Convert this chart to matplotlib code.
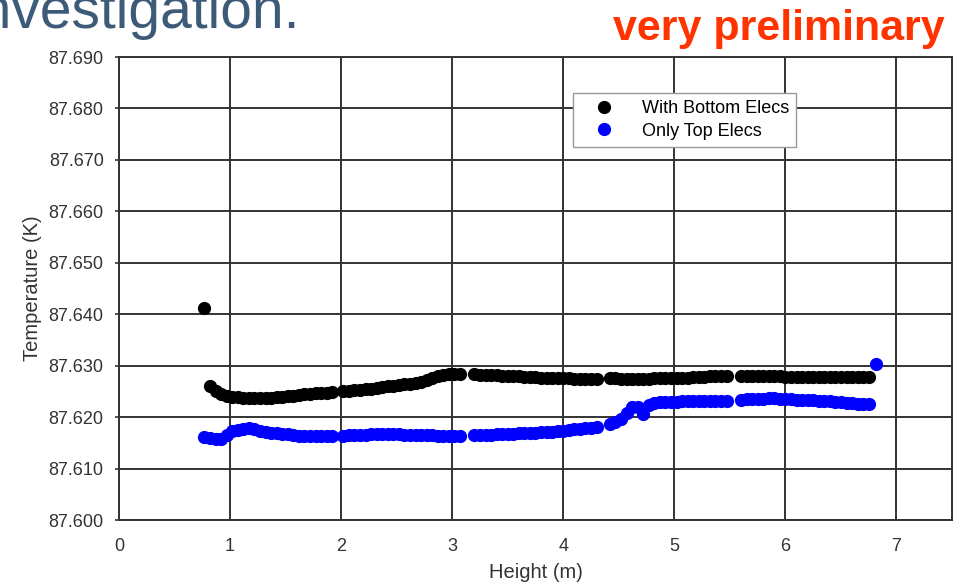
import matplotlib
matplotlib.use("Agg")
import matplotlib.pyplot as plt

plt.rcParams['font.family'] = ['Liberation Sans', 'DejaVu Sans']

# heights (m) of the sensors, same for both runs
heights = [0.77, 0.82, 0.87, 0.92, 0.97, 1.02, 1.07, 1.12, 1.17, 1.22, 1.27, 1.32,
           1.37, 1.42, 1.47, 1.52, 1.57, 1.62, 1.67, 1.72, 1.77, 1.82, 1.87, 1.92,
           2.02, 2.07, 2.12, 2.17, 2.22, 2.27, 2.32, 2.37, 2.42, 2.47, 2.52, 2.57,
           2.62, 2.67, 2.72, 2.77, 2.82, 2.87, 2.92, 2.97, 3.02, 3.07,
           3.20, 3.25, 3.30, 3.35, 3.40, 3.45, 3.50, 3.55, 3.60, 3.65, 3.70, 3.75,
           3.80, 3.85, 3.90, 3.95, 4.00, 4.05, 4.10, 4.15, 4.20, 4.25, 4.30,
           4.42, 4.47, 4.52, 4.57, 4.62, 4.67, 4.72, 4.77, 4.82, 4.87, 4.92, 4.97,
           5.02, 5.07, 5.12, 5.17, 5.22, 5.27, 5.32, 5.37, 5.42, 5.47,
           5.60, 5.65, 5.70, 5.75, 5.80, 5.85, 5.90, 5.95, 6.00, 6.05, 6.10, 6.15,
           6.20, 6.25, 6.30, 6.35, 6.40, 6.45, 6.50, 6.55, 6.60, 6.65, 6.70, 6.75]

temp_bottom = [87.6413, 87.6260, 87.6250, 87.6244, 87.6241, 87.6240, 87.6239, 87.6238,
               87.6237, 87.6237, 87.6237, 87.6238, 87.6238, 87.6239, 87.6240, 87.6241,
               87.6242, 87.6243, 87.6244, 87.6245, 87.6246, 87.6247, 87.6247, 87.6248,
               87.6250, 87.6251, 87.6252, 87.6253, 87.6254, 87.6255, 87.6257, 87.6258,
               87.6260, 87.6261, 87.6262, 87.6264, 87.6265, 87.6267, 87.6269, 87.6272,
               87.6276, 87.6279, 87.6281, 87.6283, 87.6284, 87.6284,
               87.6283, 87.6282, 87.6282, 87.6281, 87.6281, 87.6280, 87.6280, 87.6279,
               87.6279, 87.6278, 87.6278, 87.6278, 87.6277, 87.6277, 87.6277, 87.6276,
               87.6276, 87.6276, 87.6275, 87.6275, 87.6275, 87.6275, 87.6275,
               87.6276, 87.6276, 87.6275, 87.6275, 87.6275, 87.6275, 87.6275, 87.6275,
               87.6276, 87.6276, 87.6276, 87.6276, 87.6277, 87.6277, 87.6277, 87.6278,
               87.6278, 87.6278, 87.6279, 87.6279, 87.6280, 87.6280,
               87.6280, 87.6280, 87.6280, 87.6280, 87.6279, 87.6279, 87.6279, 87.6279,
               87.6278, 87.6278, 87.6278, 87.6278, 87.6278, 87.6278, 87.6278, 87.6278,
               87.6278, 87.6278, 87.6278, 87.6278, 87.6278, 87.6278, 87.6278, 87.6278]

temp_top = [87.6162, 87.6160, 87.6157, 87.6158, 87.6165, 87.6173, 87.6175, 87.6177,
            87.6178, 87.6176, 87.6173, 87.6171, 87.6170, 87.6169, 87.6168, 87.6167,
            87.6165, 87.6164, 87.6163, 87.6163, 87.6163, 87.6163, 87.6163, 87.6163,
            87.6164, 87.6165, 87.6165, 87.6166, 87.6166, 87.6167, 87.6167, 87.6167,
            87.6167, 87.6167, 87.6167, 87.6166, 87.6166, 87.6166, 87.6165, 87.6165,
            87.6165, 87.6164, 87.6164, 87.6164, 87.6164, 87.6164,
            87.6165, 87.6165, 87.6166, 87.6166, 87.6167, 87.6167, 87.6168, 87.6168,
            87.6169, 87.6169, 87.6170, 87.6170, 87.6171, 87.6172, 87.6172, 87.6173,
            87.6174, 87.6175, 87.6176, 87.6177, 87.6178, 87.6179, 87.6180,
            87.6187, 87.6191, 87.6196, 87.6208, 87.6219, 87.6219, 87.6207, 87.6223,
            87.6227, 87.6229, 87.6230, 87.6230, 87.6230, 87.6231, 87.6231, 87.6231,
            87.6231, 87.6231, 87.6232, 87.6232, 87.6232, 87.6232,
            87.6234, 87.6235, 87.6235, 87.6236, 87.6236, 87.6237, 87.6237, 87.6236,
            87.6236, 87.6235, 87.6234, 87.6234, 87.6233, 87.6233, 87.6232, 87.6232,
            87.6231, 87.6230, 87.6229, 87.6228, 87.6227, 87.6226, 87.6225, 87.6225]
# one extra top-only reading at the very top
top_extra_h = [6.82]
top_extra_t = [87.6304]

x_ticks = [0, 1, 2, 3, 4, 5, 6, 7]
y_ticks = [87.600, 87.610, 87.620, 87.630, 87.640, 87.650, 87.660, 87.670, 87.680, 87.690]

fig = plt.figure(figsize=(9.57, 5.82), dpi=100)
ax = fig.add_axes([0.1243, 0.1065, 0.8705, 0.7955])

ax.plot(heights, temp_bottom, 'o', color='black', markersize=8.5, label='With Bottom Elecs', zorder=3)
ax.plot(heights + top_extra_h, temp_top + top_extra_t, 'o', color='#0000ff', markersize=8.5,
        label='Only Top Elecs', zorder=3)

ax.set_xlim(0, 7.5)
ax.set_ylim(87.600, 87.690)
ax.set_xticks(x_ticks)
ax.set_yticks(y_ticks)
ax.set_yticklabels(['%.3f' % v for v in y_ticks])
ax.grid(True, color='#333333', linewidth=1.4)
ax.set_axisbelow(True)
for s in ax.spines.values():
    s.set_linewidth(1.4)
    s.set_color('#333333')
ax.tick_params(axis='y', length=3, width=1.2, color='#333333', labelsize=13, labelcolor='#333333', pad=8)
ax.tick_params(axis='x', length=0, labelsize=13, labelcolor='#333333', pad=13)

ax.set_xlabel('Height (m)', fontsize=14.5, color='#333333', labelpad=6)
ax.set_ylabel('Temperature (K)', fontsize=14.5, color='#333333', labelpad=5)

leg = ax.legend(loc='upper left', bbox_to_anchor=(0.545, 0.922), fontsize=13,
                frameon=True, fancybox=False, framealpha=1, edgecolor='#999999',
                handletextpad=0.8, handlelength=2.6, borderpad=0.4, labelspacing=0.3,
                borderaxespad=0)

# slide text around the chart
fig.text(300 / 957, 1 - 28 / 582, 'investigation.', ha='right', va='baseline',
         fontsize=41, color='#3d5a78')
fig.text(945 / 957, 1 - 40 / 582, 'very preliminary', ha='right', va='baseline',
         fontsize=31, fontweight='bold', color='#ff3300')

fig.savefig('out.png', dpi=100)
